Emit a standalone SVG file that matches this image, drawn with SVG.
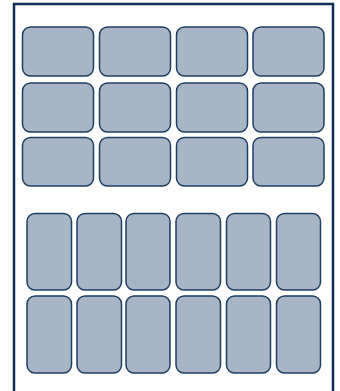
<svg xmlns="http://www.w3.org/2000/svg" width="340" height="391" viewBox="0 0 340 391">
<style>
.frame{fill:#ffffff;stroke:#0d2d56;stroke-width:2.5}
.cell{fill:#a7b5c4;stroke:#1f3e64;stroke-width:1.5}
</style>
<rect width="340" height="391" fill="#ffffff"/>
<g id="frame"><rect class="frame" x="14" y="4" width="319" height="400"/></g>
<g id="top-grid">
<g id="t11"><rect class="cell" x="22.5" y="27" width="71" height="49" rx="8"/></g>
<g id="t12"><rect class="cell" x="99.5" y="27" width="71" height="49" rx="8"/></g>
<g id="t13"><rect class="cell" x="176.5" y="27" width="71" height="49" rx="8"/></g>
<g id="t14"><rect class="cell" x="253" y="27" width="71" height="49" rx="8"/></g>
<g id="t21"><rect class="cell" x="22.5" y="83" width="71" height="49" rx="8"/></g>
<g id="t22"><rect class="cell" x="99.5" y="83" width="71" height="49" rx="8"/></g>
<g id="t23"><rect class="cell" x="176.5" y="83" width="71" height="49" rx="8"/></g>
<g id="t24"><rect class="cell" x="253" y="83" width="71" height="49" rx="8"/></g>
<g id="t31"><rect class="cell" x="22.5" y="137.5" width="71" height="48.5" rx="8"/></g>
<g id="t32"><rect class="cell" x="99.5" y="137.5" width="71" height="48.5" rx="8"/></g>
<g id="t33"><rect class="cell" x="176.5" y="137.5" width="71" height="48.5" rx="8"/></g>
<g id="t34"><rect class="cell" x="253" y="137.5" width="71" height="48.5" rx="8"/></g>
</g>
<g id="bottom-grid">
<g id="b11"><rect class="cell" x="27" y="213.5" width="44.5" height="76.5" rx="8"/></g>
<g id="b12"><rect class="cell" x="77" y="213.5" width="44.5" height="76.5" rx="8"/></g>
<g id="b13"><rect class="cell" x="126" y="213.5" width="44" height="76.5" rx="8"/></g>
<g id="b14"><rect class="cell" x="176" y="213.5" width="44.5" height="76.5" rx="8"/></g>
<g id="b15"><rect class="cell" x="226.5" y="213.5" width="44" height="76.5" rx="8"/></g>
<g id="b16"><rect class="cell" x="276.5" y="213.5" width="44" height="76.5" rx="8"/></g>
<g id="b21"><rect class="cell" x="27" y="296" width="44.5" height="77" rx="8"/></g>
<g id="b22"><rect class="cell" x="77" y="296" width="44.5" height="77" rx="8"/></g>
<g id="b23"><rect class="cell" x="126" y="296" width="44" height="77" rx="8"/></g>
<g id="b24"><rect class="cell" x="176" y="296" width="44.5" height="77" rx="8"/></g>
<g id="b25"><rect class="cell" x="226.5" y="296" width="44" height="77" rx="8"/></g>
<g id="b26"><rect class="cell" x="276.5" y="296" width="44" height="77" rx="8"/></g>
</g>
<g id="connectors"></g>
</svg>
